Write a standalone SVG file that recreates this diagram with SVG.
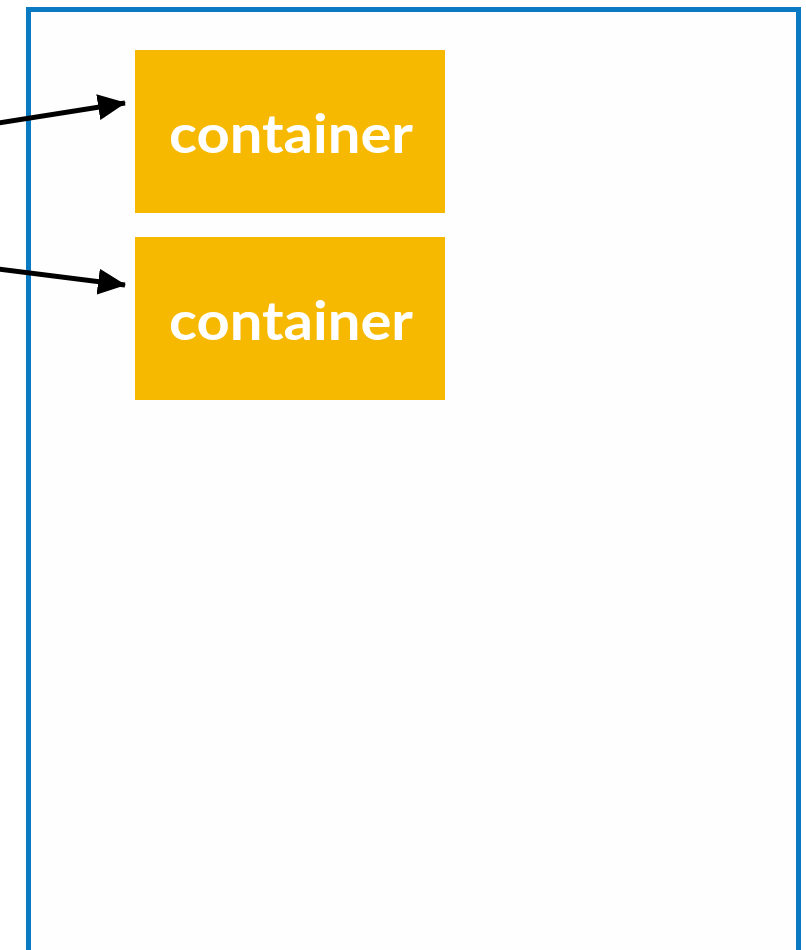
<svg xmlns="http://www.w3.org/2000/svg" width="806" height="950" viewBox="0 0 806 950">
<style>
.frame{fill:#fefefe;stroke:#0a7bc2;stroke-width:5}
.box{fill:#f6b900}
.lbl{fill:#ffffff;font-family:Lato,"Open Sans",sans-serif;font-weight:bold;font-size:54px;text-anchor:middle}
.conn{stroke:#000;stroke-width:5;fill:none}
</style>
<defs>
<marker id="ah" markerUnits="userSpaceOnUse" viewBox="0 0 28 26" markerWidth="28" markerHeight="26" refX="27" refY="13" orient="auto">
<polygon points="0,0 28,13 0,26" fill="#000"/>
</marker>
</defs>
<rect id="frame" class="frame" x="28.5" y="9.5" width="770" height="960"/>
<g id="node1">
<rect class="box" x="135" y="50" width="310" height="163"/>
<text class="lbl" x="291" y="153" textLength="244" lengthAdjust="spacingAndGlyphs">container</text>
</g>
<g id="node2">
<rect class="box" x="135" y="237" width="310" height="163"/>
<text class="lbl" x="291" y="340" textLength="244" lengthAdjust="spacingAndGlyphs">container</text>
</g>
<g id="connectors">
<line class="conn" x1="-2" y1="123" x2="125" y2="103" marker-end="url(#ah)"/>
<line class="conn" x1="-2" y1="269" x2="125" y2="285" marker-end="url(#ah)"/>
</g>
</svg>
